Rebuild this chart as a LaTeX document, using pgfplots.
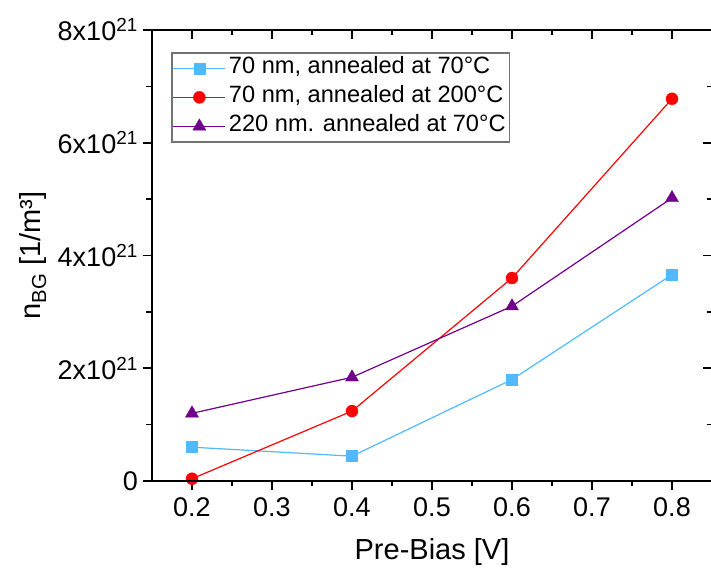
\documentclass[border=0pt]{standalone}
\usepackage{pgfplots}
\pgfplotsset{compat=1.18}
\usepackage{fontspec}
\setmainfont{Liberation Sans}
\definecolor{lblue}{RGB}{80,185,255}
\definecolor{myred}{RGB}{255,0,0}
\definecolor{mypurple}{RGB}{110,0,140}

\begin{document}
\begin{tikzpicture}
\pgfplotsset{
  common/.style={
    width=560pt, height=451pt, scale only axis,
    xmin=0.15, xmax=0.85, ymin=0, ymax=8,
    xtick={0.2,0.3,0.4,0.5,0.6,0.7,0.8},
    ytick={0,2,4,6,8},
    minor x tick num=1, minor y tick num=1,
    major tick length=9pt, minor tick length=5.5pt,
    every tick/.style={black, line width=1.6pt},
    axis line style={line width=2pt},
  }
}
% labels, data, outward ticks on left and bottom
\begin{axis}[common, name=ax,
  xtick pos=left, ytick pos=left, tick align=outside,
  xticklabels={0.2,0.3,0.4,0.5,0.6,0.7,0.8},
  yticklabels={0,2x10\textsuperscript{21},4x10\textsuperscript{21},6x10\textsuperscript{21},8x10\textsuperscript{21}},
  xticklabel style={font=\fontsize{27}{32}\selectfont, inner sep=0pt, yshift=-7pt},
  yticklabel style={font=\fontsize{27}{32}\selectfont, inner sep=0pt, xshift=-5pt},
  xlabel={Pre-Bias [V]},
  ylabel={n\textsubscript{BG} [1/m³]},
  xlabel style={font=\fontsize{29}{34}\selectfont, at={(axis description cs:0.5,-0.157)}, anchor=center},
  ylabel style={font=\fontsize{29}{34}\selectfont, at={(axis description cs:-0.2125,0.5)}, anchor=center},
  legend style={at={(rel axis cs:0.034,0.951)}, anchor=north west,
    draw=black!55, line width=1.5pt, inner sep=1pt,
    font=\fontsize{23.6}{28}\selectfont,
    nodes={inner sep=3pt, text height=17pt, text depth=6pt}},
  legend cell align=left,
  legend image code/.code={\draw[mark repeat=2,mark phase=2] plot coordinates {(0pt,0pt)(26pt,0pt)(52pt,0pt)};},
  clip=false,
]
\addplot[color=lblue, line width=1.2pt, mark=square*, mark size=5.5pt, mark options={fill=lblue, line width=0.4pt}]
  coordinates {(0.2,0.60)(0.4,0.44)(0.6,1.80)(0.8,3.66)};
\addlegendentry{70 nm, annealed at 70°C}
\addplot[color=myred, line width=1.2pt, mark=*, mark size=6pt, mark options={fill=myred, line width=0.4pt}]
  coordinates {(0.2,0.04)(0.4,1.24)(0.6,3.60)(0.8,6.78)};
\addlegendentry{70 nm, annealed at 200°C}
\addplot[color=mypurple, line width=1.2pt, mark=triangle*, mark size=7.5pt, mark options={fill=mypurple, line width=0.4pt}]
  coordinates {(0.2,1.20)(0.4,1.84)(0.6,3.10)(0.8,5.02)};
\addlegendentry{220 nm. annealed at 70°C}
\end{axis}
% inward ticks on top and right
\begin{axis}[common,
  xtick pos=right, ytick pos=right, tick align=inside,
  xticklabels={}, yticklabels={},
]
\end{axis}
\pgfresetboundingbox
\path[use as bounding box] ([shift={(-152pt,-88pt)}]ax.south west) rectangle ([shift={(-1pt,30pt)}]ax.north east);
\end{tikzpicture}
\end{document}
